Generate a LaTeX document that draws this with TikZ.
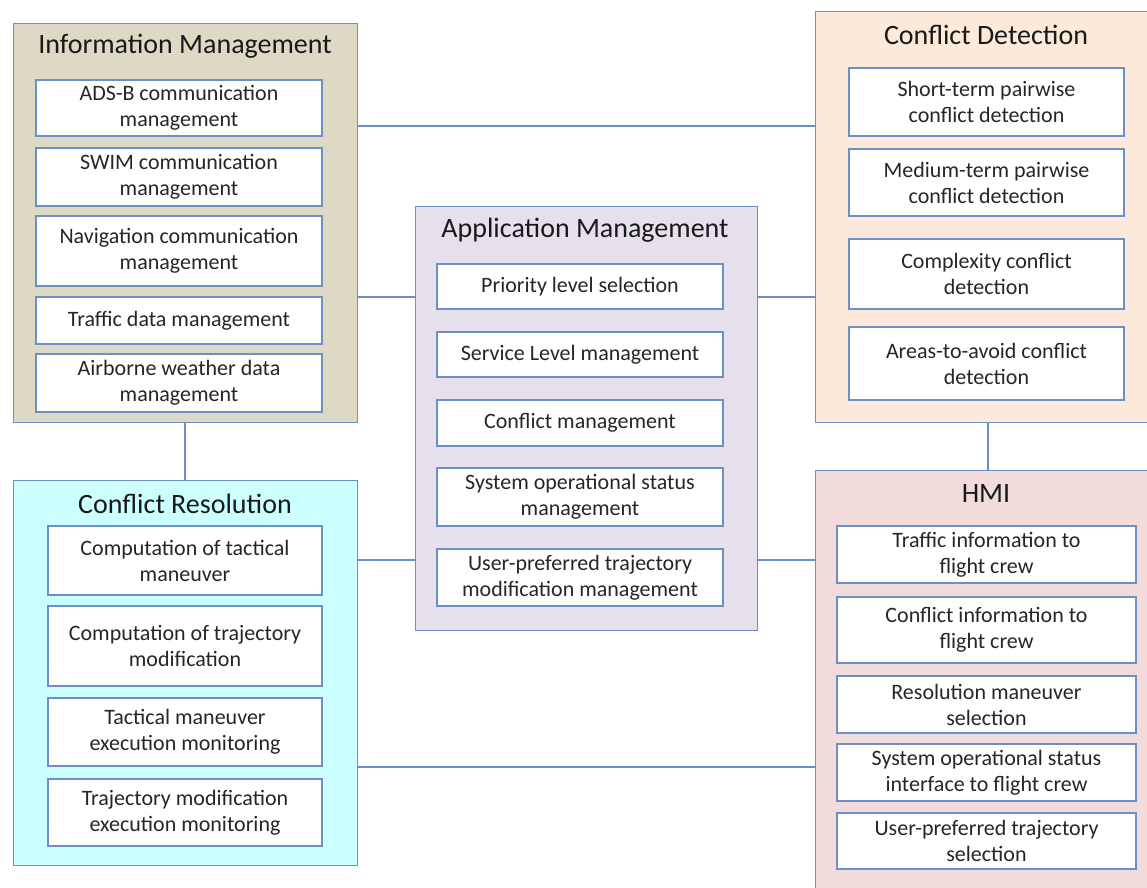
\documentclass[tikz,border=0pt]{standalone}
\usepackage{fontspec}
\setmainfont{Carlito}
\usetikzlibrary{positioning}
\definecolor{edgeblue}{HTML}{6C8FC7}
\definecolor{infofill}{HTML}{DDD9C4}
\definecolor{detectfill}{HTML}{FDE9D9}
\definecolor{appfill}{HTML}{E5E0EC}
\definecolor{resolfill}{HTML}{CCFFFF}
\definecolor{hmifill}{HTML}{F2DCDB}
\tikzset{
group/.style={draw=edgeblue, line width=1.2pt, anchor=north west, inner sep=0pt}, % the big coloured blocks
grouptitle/.style={font=\fontsize{28}{32}\selectfont, text=black!90}, % heading of each block
item/.style={draw=edgeblue, line width=1.2pt, fill=white, align=center, inner sep=0pt,
  font=\fontsize{22}{26}\selectfont, text=black!85}, % the white function boxes
link/.style={draw=edgeblue, line width=1.2pt}, % plain lines between blocks
}

\begin{document}
\begin{tikzpicture}[x=1pt, y=-1pt]
    \useasboundingbox (0,0) rectangle (1147,887);
    \clip (0,0) rectangle (1147,887);

    % blocks
    \node[group, fill=infofill, minimum width=344pt, minimum height=399pt] (info) at (13,23) {};
    \node[group, fill=detectfill, minimum width=360pt, minimum height=411pt] (detect) at (815,11) {};
    \node[group, fill=appfill, minimum width=342pt, minimum height=424pt] (app) at (415,206) {};
    \node[group, fill=resolfill, minimum width=344pt, minimum height=385pt] (resol) at (13,480) {};
    \node[group, fill=hmifill, minimum width=360pt, minimum height=440pt] (hmi) at (815,470) {};

    \node[grouptitle] (infot) at (185,46) {Information Management};
    \node[grouptitle] (detectt) at (986,35) {Conflict Detection};
    \node[grouptitle] (appt) at (585,230) {Application Management};
    \node[grouptitle] (resolt) at (185,504) {Conflict Resolution};
    \node[grouptitle] (hmit) at (986,494) {HMI};

    % information management
    \node[item, minimum width=286pt, minimum height=56pt] (adsb) at (179,108) {ADS-B communication\\management};
    \node[item, minimum width=286pt, minimum height=58pt] (swim) at (179,177) {SWIM communication\\management};
    \node[item, minimum width=286pt, minimum height=70pt] (nav) at (179,251) {Navigation communication\\management};
    \node[item, minimum width=286pt, minimum height=47pt] (traffic) at (179,320.5) {Traffic data management};
    \node[item, minimum width=286pt, minimum height=58pt] (weather) at (179,383) {Airborne weather data\\management};

    % conflict detection
    \node[item, minimum width=275pt, minimum height=68pt] (short) at (986.5,102) {Short-term pairwise\\conflict detection};
    \node[item, minimum width=275pt, minimum height=67pt] (medium) at (986.5,182.5) {Medium-term pairwise\\conflict detection};
    \node[item, minimum width=275pt, minimum height=70pt] (complex) at (986.5,274) {Complexity conflict\\detection};
    \node[item, minimum width=275pt, minimum height=73pt] (avoid) at (986.5,363.5) {Areas-to-avoid conflict\\detection};

    % application management
    \node[item, minimum width=286pt, minimum height=45pt] (priority) at (580,286.5) {Priority level selection};
    \node[item, minimum width=286pt, minimum height=45pt] (service) at (580,354.5) {Service Level management};
    \node[item, minimum width=286pt, minimum height=46pt] (confman) at (580,423) {Conflict management};
    \node[item, minimum width=286pt, minimum height=58pt] (status) at (580,497) {System operational status\\management};
    \node[item, minimum width=286pt, minimum height=57pt] (userapp) at (580,577.5) {User-preferred trajectory\\modification management};

    % conflict resolution
    \node[item, minimum width=274pt, minimum height=69pt] (tactical) at (185,560.5) {Computation of tactical\\maneuver};
    \node[item, minimum width=274pt, minimum height=80pt] (trajmod) at (185,646) {Computation of trajectory\\modification};
    \node[item, minimum width=274pt, minimum height=68pt] (tacexec) at (185,732) {Tactical maneuver\\execution monitoring};
    \node[item, minimum width=274pt, minimum height=67pt] (trajexec) at (185,812.5) {Trajectory modification\\execution monitoring};

    % hmi
    \node[item, minimum width=299pt, minimum height=57pt] (trafinfo) at (986.5,554.5) {Traffic information to\\flight crew};
    \node[item, minimum width=299pt, minimum height=66pt] (confinfo) at (986.5,630) {Conflict information to\\flight crew};
    \node[item, minimum width=299pt, minimum height=57pt] (resman) at (986.5,704.5) {Resolution maneuver\\selection};
    \node[item, minimum width=299pt, minimum height=57pt] (statint) at (986.5,772.5) {System operational status\\interface to flight crew};
    \node[item, minimum width=299pt, minimum height=56pt] (usersel) at (986.5,841) {User-preferred trajectory\\selection};

    % links
    \draw[link] (info.east |- 0,126) -- (detect.west |- 0,126);
    \draw[link] (info.east |- 0,297) -- (app.west |- 0,297);
    \draw[link] (app.east |- 0,297) -- (detect.west |- 0,297);
    \draw[link] (info.south -| 185,0) -- (resol.north -| 185,0);
    \draw[link] (detect.south -| 988,0) -- (hmi.north -| 988,0);
    \draw[link] (resol.east |- 0,560) -- (app.west |- 0,560);
    \draw[link] (app.east |- 0,560) -- (hmi.west |- 0,560);
    \draw[link] (resol.east |- 0,767) -- (hmi.west |- 0,767);
\end{tikzpicture}
\end{document}
